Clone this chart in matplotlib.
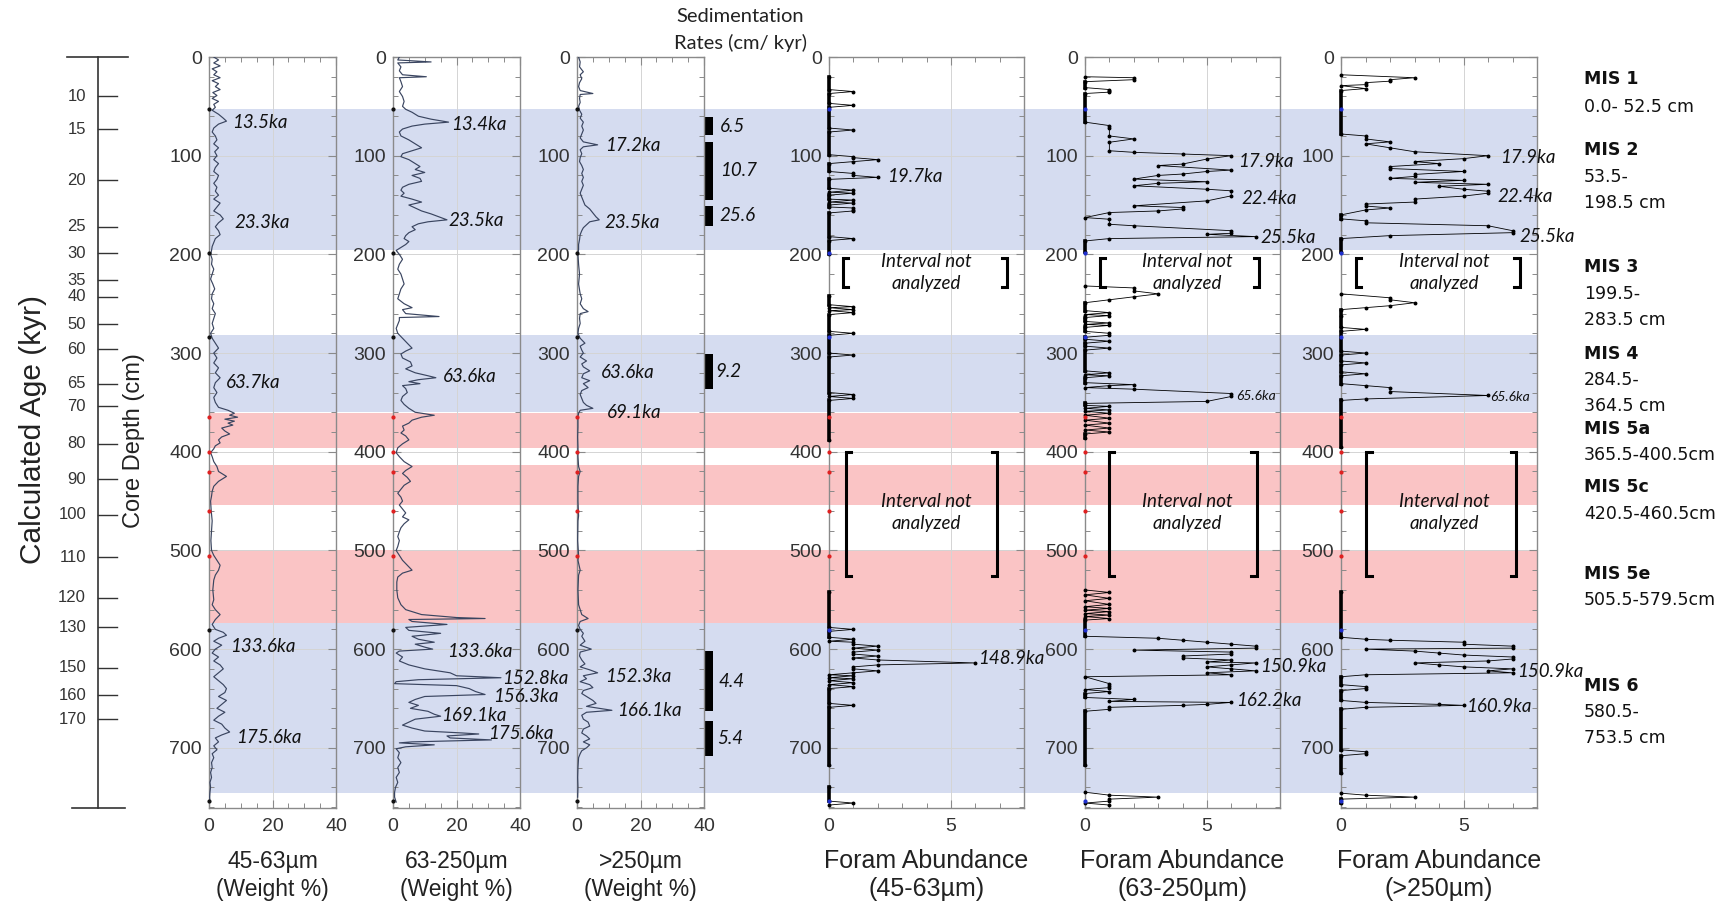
import numpy as np
import matplotlib.pyplot as plt
from matplotlib.ticker import MultipleLocator

# ---------------- data ----------------
# grain size weight % (depth in cm, value in %)
depth_45_63 = [0, 3, 6, 9, 12, 15, 18, 21, 24, 27, 30, 33, 36, 39, 42, 45, 48, 51, 54, 58, 62, 65, 68, 72,
               76, 80, 84, 88, 92, 96, 100, 104, 108, 112, 116, 120, 124, 128, 132, 136, 140, 144, 148,
               152, 156, 160, 164, 168, 172, 176, 180, 184, 188, 192, 196, 200, 205, 210, 215, 220, 225,
               230, 235, 240, 245, 250, 255, 260, 265, 270, 275, 280, 285, 290, 295, 300, 305, 310, 315,
               320, 325, 330, 335, 340, 345, 350, 355, 358, 361, 363, 365, 367, 369, 371, 373, 376, 379,
               382, 385, 388, 391, 394, 397, 401, 405, 410, 415, 420, 425, 430, 435, 440, 445, 450, 460,
               470, 480, 490, 500, 505, 510, 515, 520, 525, 530, 540, 550, 555, 560, 565, 570, 575, 580,
               583, 586, 589, 592, 596, 600, 604, 608, 612, 616, 620, 624, 628, 632, 636, 640, 644, 648,
               652, 656, 660, 664, 668, 672, 676, 680, 684, 687, 690, 694, 698, 702, 706, 710, 715, 720,
               725, 730, 735, 740, 745, 750, 755]
wt_45_63 = [1.5, 3, 1.5, 3.5, 1, 2.5, 1.5, 3.5, 1, 3, 2, 3.5, 1.2, 2.5, 1, 3, 1.5, 2, 1, 3, 4.5, 5.5, 3, 1.5,
            1, 2, 2.5, 1.5, 3, 1.8, 2.5, 1.5, 3, 2, 1.5, 3, 2.5, 1.5, 2.5, 2, 3, 1.5, 3.5,
            2.5, 1.5, 3.5, 4.5, 3, 2, 3, 3.5, 2, 1.5, 1, 0.8, 0.5, 1, 0.8, 1.5, 1, 0.5,
            1.2, 1.8, 1, 0.8, 1.5, 1, 2, 1.5, 1, 1.5, 0.5, 1, 2, 3, 1.5, 2.5, 1.5, 3,
            2, 3.5, 2, 1.5, 2.5, 1.5, 2, 3, 6, 8, 6.5, 9, 5, 8, 6, 7.5, 4, 5,
            6.5, 4, 3, 3.5, 2, 1.5, 0.5, 1, 1.5, 2.5, 3, 5.5, 3, 1.5, 1, 0.8, 0.5, 0.7,
            1, 0.8, 0.6, 0.8, 1.5, 2.5, 3.5, 3, 2, 1.5, 1.2, 1.5, 1, 2, 3.5, 2, 1, 2,
            4.5, 5.5, 3, 1.5, 4, 2, 1, 3, 1.5, 3.5, 4.5, 3, 1.5, 3, 4.5, 5.5, 5, 3,
            5.5, 4, 2.5, 5, 3, 1.5, 4, 5, 6.5, 4, 2, 3, 1.5, 2.5, 1, 1.5, 0.8, 1,
            0.5, 0.8, 0.3, 0.5, 0.3, 0.2, 0.3]

depth_63_250 = [0, 3, 5, 6, 10, 14, 18, 20, 21, 25, 30, 35, 40, 45, 50, 53, 56, 60, 63, 66, 68, 70, 73, 76,
                80, 84, 88, 92, 95, 98, 101, 104, 108, 111, 114, 117, 120, 123, 126, 129, 132, 135, 138,
                141, 144, 147, 150, 153, 156, 159, 162, 165, 167, 169, 172, 175, 178, 181, 184, 187, 190,
                193, 196, 200, 205, 210, 215, 220, 225, 230, 235, 240, 245, 250, 254, 256, 260, 263, 264,
                267, 271, 275, 280, 285, 290, 295, 298, 301, 305, 309, 313, 316, 320, 323, 325, 327, 329,
                331, 333, 336, 340, 344, 348, 352, 356, 360, 363, 365, 368, 371, 374, 378, 381, 384, 388,
                392, 396, 401, 405, 410, 415, 419, 422, 426, 430, 434, 438, 442, 446, 450, 454, 458, 462,
                466, 469, 473, 477, 481, 486, 490, 496, 500, 505, 510, 515, 520, 523, 527, 532, 540, 548,
                555, 560, 565, 568, 569, 570, 572, 575, 578, 581, 584, 587, 590, 593, 595, 598, 600, 602,
                604, 608, 612, 616, 620, 624, 627, 629, 631, 633, 635, 637, 640, 643, 646, 648, 651, 654,
                657, 660, 663, 666, 668, 671, 674, 677, 680, 683, 685, 686, 688, 690, 692, 694, 695, 697,
                699, 701, 705, 710, 715, 720, 725, 730, 735, 740, 745, 750, 755]
wt_63_250 = [2, 1.5, 12, 1.5, 2.5, 2, 3, 10.5, 2, 2.5, 3, 2, 3, 3.5, 3, 4, 6, 8, 12, 17.5, 10, 6, 3, 2,
             2.5, 5, 7, 9, 6, 3, 2.5, 5, 7, 8.5, 7, 10, 6, 8.5, 9, 5, 3, 2.5, 3.5,
             2.5, 6, 9, 5, 7, 9, 12, 14.5, 17, 11, 8, 6, 7, 5, 4, 3.5, 5, 4,
             2.5, 1, 2, 3, 2, 1.5, 2.5, 3, 3.5, 2.5, 2, 1.5, 3.5, 6, 3, 4, 14.5, 2,
             2, 1.5, 1, 1.5, 3, 4.5, 6, 4, 2.5, 3, 5.5, 6, 4, 7, 11, 13.5, 8, 5,
             8.5, 3, 4, 4.5, 3, 2.5, 3.5, 5, 7, 13, 9, 6, 5, 3, 3.5, 2.5, 4, 5,
             3, 1.5, 1, 2, 3.5, 6, 4, 3, 4.5, 5.5, 3.5, 2.5, 1.5, 2.5, 3, 2, 3, 4,
             3, 5, 3.5, 2.5, 2, 1.5, 2, 1.5, 1, 2, 3, 4.5, 6, 3, 1.5, 1.2, 1.2, 1.5,
             2.5, 4, 9, 20, 29, 5, 6, 17, 4, 5, 15, 6, 8, 13, 7, 10, 12.5, 2,
             1, 3, 2, 5, 10, 18, 20, 34, 8, 1, 0.5, 20, 24, 26, 29, 10, 7, 5,
             8, 5.5, 11, 13, 15, 7, 5, 3, 6, 10, 22, 27, 17, 18, 31, 6, 2, 13,
             4, 1, 2, 1.5, 2.5, 1.5, 2, 1, 1.5, 0.8, 0.5, 0.5, 1]

depth_gt250 = [0, 5, 10, 15, 18, 22, 26, 30, 34, 37, 38, 42, 46, 50, 54, 58, 62, 66, 70, 74, 78, 82, 86, 89,
               91, 94, 98, 102, 106, 110, 114, 118, 122, 126, 130, 134, 138, 142, 146, 150, 154, 158, 162,
               165, 167, 170, 173, 176, 180, 185, 190, 195, 200, 210, 220, 230, 240, 245, 250, 255, 258,
               260, 265, 270, 275, 280, 285, 290, 293, 297, 300, 304, 308, 311, 314, 318, 321, 325, 328,
               331, 335, 338, 342, 346, 350, 353, 356, 358, 361, 365, 375, 385, 395, 405, 415, 420, 425,
               435, 450, 465, 470, 490, 505, 510, 520, 525, 540, 555, 565, 569, 572, 576, 580, 584, 587,
               592, 596, 600, 603, 607, 611, 615, 618, 621, 624, 627, 630, 633, 636, 639, 642, 645, 648,
               652, 655, 658, 662, 664, 667, 671, 674, 678, 681, 685, 688, 691, 694, 697, 700, 703, 706,
               710, 720, 730, 740, 750]
wt_gt250 = [0.5, 1, 0.8, 2, 1, 1.5, 0.8, 0.5, 1, 5, 1, 0.8, 1, 0.5, 0.8, 1.5, 1, 2, 1.5, 2, 1.5, 1, 2, 6.5,
            2, 1, 1.5, 1, 0.8, 1.5, 2, 1.5, 2, 1.5, 2, 1.5, 1, 1.5, 2, 2.5, 4, 5, 6,
            7, 4, 3, 2, 1.5, 1, 0.8, 0.5, 0.5, 0.3, 0.5, 0.8, 0.5, 1, 1.5, 1, 2, 3.5,
            1, 0.8, 1, 0.5, 0.3, 1, 2.5, 1, 1.5, 2, 1, 3, 1.5, 2, 4, 2, 1.5, 4,
            2, 3.5, 1.5, 1, 1.5, 2, 3, 5, 1, 0.5, 0.3, 0.3, 0.2, 0.3, 0.3, 0.5, 1, 0.5,
            0.3, 0.3, 0.5, 0.3, 0.2, 0.5, 0.3, 1, 0.5, 0.3, 0.5, 1.5, 3.5, 1, 0.5, 1, 2, 1.5,
            2.5, 1, 4.5, 1, 0.8, 1.5, 2.5, 1, 4, 6.5, 2, 3, 1, 4, 5, 2, 1.5, 3,
            5, 6, 3, 11, 3, 1.5, 2, 3.5, 4, 2, 1.5, 3, 4, 2, 4, 3, 1.5, 1,
            0.5, 0.3, 0.2, 0.3, 0.2]

# sedimentation rates (cm/kyr) with depth ranges
sed_top = [61, 86, 151, 301, 602, 673]
sed_bot = [79, 145, 171, 336, 663, 708]
sed_rate = ["6.5", "10.7", "25.6", "9.2", "4.4", "5.4"]
sed_label_x = [45, 45, 45, 43.5, 44.5, 44.2]

nan = np.nan
# foram abundance counts (depth cm, count); nan = not analyzed gap
foram1_depth = [20, 33, 35, 37, 47, 49, 51, 72, 74, 76, 99, 101, 102, 104, 106, 108, 116, 118, 120, 122, 124,
                133, 135, 137, 138, 140, 144, 145, 147, 148, 150, 152, 153, 155, 156, 158, 182, 184, 186, 200,
                nan,
                242, 251, 253, 254, 256, 257, 259, 261, 278, 280, 282, 300, 302, 304, 340, 342, 344, 346, 348,
                388, nan,
                542, 578, 580, 582, 588, 590, 592, 593, 595, 597, 599, 601, 603, 605, 607, 609, 611, 614, 616,
                618, 620, 622, 624, 626, 627, 629, 630, 632, 634, 636, 638, 640, 655, 657, 659, 717, nan,
                740, 754, 756, 758]
foram1_count = [0, 0, 1, 0, 0, 1, 0, 0, 1, 0, 0, 1, 1, 2, 1, 0, 0, 1, 1, 2, 0,
                0, 1, 0, 1, 0, 0, 1, 0, 1, 0, 0, 1, 1, 1, 0, 0, 1, 0, 0,
                nan,
                0, 0, 1, 0, 1, 0, 1, 0, 0, 1, 0, 0, 1, 0, 0, 1, 0, 1, 0,
                0, nan,
                0, 0, 1, 0, 0, 1, 0, 1, 1, 2, 1, 2, 1, 1, 2, 1, 2, 6, 2,
                1, 1, 2, 1, 0, 1, 0, 1, 0, 1, 0, 1, 0, 0, 1, 0, 0, nan,
                0, 0, 1, 0]

foram2_depth = [20, 21, 23, 25, 31, 33, 34.6, 35.6, 37, 66, 69.5, 72, 80, 83, 86.4, 95, 96.6, 98.3, 100, 103.4,
                108.5, 110, 114.6, 116, 118.6, 120, 123.7, 126.4, 128, 130.5, 134, 135.6, 140.7, 145.8,
                150.8, 152.5, 154, 156, 157.6, 162.7, 164.4, 169.5, 171, 176, 178.6, 179.7, 182, 184, 186.4,
                198, nan,
                232, 234, 237, 240, 243, 246, 249, 257, 259, 261, 262, 264, 268, 269.5, 271, 272, 274, 278,
                280, 282, 284, 286, 288, 290, 293, 295, 297, 318, 320, 322, 323, 325, 330, 332, 333, 335,
                336.6, 341, 344, 349, 351, 353, 354, 356, 357.6, 359, 361, 363, 366, 368, 371, 373, 376,
                378, 380, 382, 386, nan,
                540, 542.6, 545, 548.6, 551, 554.7, 557, 558.8, 560.5, 562, 564, 565.5, 567, 569, 570.6, 587,
                589, 591, 593, 595, 597, 599, 601, 603, 605, 607, 609, 611, 613, 614, 616, 618, 620, 622,
                624, 626, 628, 635, 637, 639, 641, 643, 645, 649, 651, 653, 654, 656, 657, 659, 661, 663, 717,
                nan,
                745, 748, 750, 752, 754, 756, 758]
foram2_count = [0, 2, 2, 0, 0, 1, 1, 1, 0, 0, 1, 1, 1, 2, 1, 1, 2, 4, 6, 5,
                4, 3, 6, 5, 4, 3, 2, 5, 3, 2, 5, 6, 6, 5,
                2, 4, 4, 3, 1, 0, 1, 1, 2, 6, 6, 5, 7, 1, 0,
                0, nan,
                0, 2, 2, 3, 2, 1, 0, 0, 1, 0, 1, 0, 0, 1, 0, 1, 0, 0,
                1, 1, 0, 0, 1, 0, 0, 1, 0, 0, 1, 0, 1, 0, 0, 2, 1, 0,
                2, 6, 6, 5, 0, 0, 1, 0, 1, 0, 1, 0, 1, 0, 1, 0, 1,
                0, 1, 0, 0, nan,
                0, 1, 0, 1, 0, 1, 0, 1, 0, 1, 0, 1, 0, 1, 0, 0,
                3, 4, 5, 6, 7, 7, 2, 6, 6, 4, 4, 6, 5, 7, 6, 5, 6, 7,
                5, 6, 0, 1, 1, 1, 0, 1, 0, 0, 2, 1, 6, 5, 4, 1, 1, 0, 0,
                nan,
                0, 1, 3, 1, 1, 0, 1]

foram3_depth = [18, 21, 23, 24.5, 26, 28, 29, 32, 34, 78, 80, 83, 86, 88, 92, 96, 100, 103, 106, 108, 111,
                113, 116, 119, 121, 123, 125, 127, 129, 131, 134, 136, 138, 141, 144, 147, 149, 151, 153,
                155, 160, 164, 166, 168, 171, 176, 178, 181, 184, 198, nan,
                240, 244, 246, 249, 252, 254, 256, 262, 274, 276, 278, 298, 300, 302, 308, 310, 312, 319, 321,
                323, 331, 333, 335, 339, 343, 346.5, 348, 395, nan,
                542, 588, 590, 591, 593, 595, 597, 599, 600, 602, 604, 606, 608, 610, 612, 614, 616, 618,
                620, 622, 624, 626, 628, 636, 638, 640, 642, 652, 654, 656, 657, 659, 661, 702, 704, 706,
                708, 726, nan,
                746, 748, 750, 752, 756]
foram3_count = [0, 3, 2, 2, 1, 1, 0, 1, 0, 0, 1, 1, 2, 1, 2, 3, 6, 5, 3, 4, 2,
                2, 5, 3, 3, 2, 5, 3, 6, 4, 5, 6, 6, 5, 3, 3, 1, 1, 2,
                1, 0, 0, 1, 1, 6, 7, 7, 2, 0, 0, nan,
                0, 2, 2, 3, 2, 1, 0, 0, 0, 1, 0, 0, 1, 0, 0, 1, 0, 0, 1,
                0, 0, 1, 2, 2, 6, 1, 0, 0, nan,
                0, 0, 1, 2, 5, 5, 7, 7, 1, 3, 4, 5, 7, 7, 6, 3, 4, 5,
                7, 6, 7, 1, 0, 0, 1, 1, 0, 0, 1, 4, 5, 1, 0, 0, 1, 1,
                0, 0, nan,
                0, 1, 3, 0, 0]

# age-model tie points (depth cm)
tie_black = [52.5, 198.5, 283.5, 580.5, 753.5]
tie_red = [364.5, 400.5, 420.5, 460.5, 505.5]

# MIS background bands
band_top = [52.5, 282, 361, 413, 499.5, 574]
band_bot = [196, 360, 396, 454, 574, 746]
band_kind = ["glacial", "glacial", "interglacial", "interglacial", "interglacial", "glacial"]

# calculated age axis
age_labels = [10, 15, 20, 25, 30, 35, 40, 50, 60, 65, 70, 80, 90, 100, 110, 120, 130, 150, 160, 170]
age_depth = [40, 73, 125, 172, 199, 226, 243, 271, 296, 331, 354, 392, 428, 464, 507, 548, 578, 619, 647, 671]

# annotations (label, x value, depth)
ann_45_63 = [("13.5ka", 7.2, 66), ("23.3ka", 7.9, 168), ("63.7ka", 5.4, 330),
             ("133.6ka", 6.6, 597), ("175.6ka", 8.6, 690)]
ann_63_250 = [("13.4ka", 18.4, 68), ("23.5ka", 17.6, 166), ("63.6ka", 15.6, 324), ("133.6ka", 17, 602),
              ("152.8ka", 34.5, 630), ("156.3ka", 31.5, 648), ("169.1ka", 15.3, 667), ("175.6ka", 29.9, 686)]
ann_gt250 = [("17.2ka", 8.7, 90), ("23.5ka", 8.7, 168), ("63.6ka", 7.5, 320), ("69.1ka", 9.3, 360),
             ("152.3ka", 8.7, 628), ("166.1ka", 12.6, 662)]
ann_f1 = [("19.7ka", 2.4, 121, 13.5), ("148.9ka", 6.1, 610, 13.5)]
ann_f2 = [("17.9ka", 6.3, 106, 13.5), ("22.4ka", 6.4, 143, 13.5), ("25.5ka", 7.2, 183, 13.5),
          ("65.6ka", 6.2, 344, 10), ("150.9ka", 7.2, 618, 13.5), ("162.2ka", 6.2, 652, 13.5)]
ann_f3 = [("17.9ka", 6.5, 102, 13.5), ("22.4ka", 6.4, 141, 13.5), ("25.5ka", 7.3, 182, 13.5),
          ("65.6ka", 6.1, 345, 10), ("150.9ka", 7.2, 623, 13.5), ("160.9ka", 5.1, 658, 13.5)]

# not analyzed intervals (top, bottom) and bracket x positions per foram panel
gap_top = [(204, 233), (204, 233), (204, 233)]
gap_low = [(400, 526), (400, 526), (400, 526)]
bracket_top_x = [(0.57, 7.3), (0.6, 7.15), (0.6, 7.3)]
bracket_low_x = [(0.7, 6.9), (0.98, 7.05), (1.03, 7.15)]
gap_text_x = [4.0, 4.2, 4.2]

mis_lines = [("MIS 1", True, 79), ("0.0- 52.5 cm", False, 107),
             ("MIS 2", True, 150), ("53.5-", False, 177), ("198.5 cm", False, 203),
             ("MIS 3", True, 267), ("199.5-", False, 294), ("283.5 cm", False, 320),
             ("MIS 4", True, 354), ("284.5-", False, 380), ("364.5 cm", False, 406),
             ("MIS 5a", True, 429), ("365.5-400.5cm", False, 455),
             ("MIS 5c", True, 487), ("420.5-460.5cm", False, 514),
             ("MIS 5e", True, 574), ("505.5-579.5cm", False, 600),
             ("MIS 6", True, 686), ("580.5-", False, 712), ("753.5 cm", False, 738)]

# ---------------- figure ----------------
plt.rcParams['font.family'] = ['Liberation Sans', 'DejaVu Sans']
W, H = 1728, 907
YMAX = 761
TOP, BOT = 57, 808
fig = plt.figure(figsize=(W / 100, H / 100), dpi=100)


def px_axes(x0, x1, y0=TOP, y1=BOT):
    return fig.add_axes([x0 / W, 1 - y1 / H, (x1 - x0) / W, (y1 - y0) / H])


band_color = {"glacial": "#d5dcf0", "interglacial": "#fac4c5"}
bg = px_axes(209, 1537)
bg.set_ylim(YMAX, 0)
bg.axis('off')
for t, b, k in zip(band_top, band_bot, band_kind):
    bg.axhspan(t, b, color=band_color[k], lw=0)

ann_font = dict(family=['Lato', 'DejaVu Sans'], style='italic', color='#111111')


def style_axis(ax, xmax, xmajor, xminor):
    ax.set_facecolor('none')
    ax.set_xlim(0, xmax)
    ax.set_ylim(YMAX, 0)
    ax.xaxis.set_major_locator(MultipleLocator(xmajor))
    ax.xaxis.set_minor_locator(MultipleLocator(xminor))
    ax.yaxis.set_minor_locator(MultipleLocator(20))
    ax.set_yticks(range(0, 701, 100))
    ax.tick_params(which='both', direction='in', top=True, right=True,
                   colors='#8a8a8a', labelcolor='#333333', labelsize=14)
    ax.tick_params(which='major', length=6, width=0.8)
    ax.tick_params(which='minor', length=3.5, width=0.7)
    ax.tick_params(axis='x', pad=7)
    ax.tick_params(axis='y', pad=5)
    ax.grid(True, which='major', color='#d4d4d4', lw=0.7)
    ax.set_axisbelow(True)
    for s in ax.spines.values():
        s.set_color('#8a8a8a')
        s.set_linewidth(1.0)


def add_ties(ax, black_color):
    ax.plot(np.zeros(len(tie_black)), tie_black, 'o', ms=2, color=black_color, clip_on=False, zorder=6)
    ax.plot(np.zeros(len(tie_red)), tie_red, 'o', ms=2, color='#e02020', clip_on=False, zorder=6)


def xlabel(ax_x0, ax_x1, l1, l2, fs):
    cx = (ax_x0 + ax_x1) / 2 / W
    fig.text(cx, 1 - 868 / H, l1, ha='center', va='baseline', fontsize=fs, color='#222222')
    fig.text(cx, 1 - 896 / H, l2, ha='center', va='baseline', fontsize=fs, color='#222222')


weight_panels = [
    ((209, 336), depth_45_63, wt_45_63, ann_45_63, "45-63µm"),
    ((393, 520), depth_63_250, wt_63_250, ann_63_250, "63-250µm"),
    ((577, 704), depth_gt250, wt_gt250, ann_gt250, ">250µm"),
]
axes_w = []
for (x0, x1), dep, val, ann, name in weight_panels:
    ax = px_axes(x0, x1)
    style_axis(ax, 40, 20, 5)
    ax.plot(val, dep, color='#3a4560', lw=0.85, zorder=3)
    add_ties(ax, '#111111')
    for lab, xv, dv in ann:
        ax.text(xv, dv, lab, ha='left', va='center', fontsize=13.5, **ann_font)
    xlabel(x0, x1, name, "(Weight %)", 16.5)
    axes_w.append(ax)

# sedimentation rate bars next to the >250 panel
ax3 = axes_w[2]
for t, b, r, lx in zip(sed_top, sed_bot, sed_rate, sed_label_x):
    bars = ax3.barh((t + b) / 2, 2.8, height=b - t, left=40, color='black')
    for p in bars:
        p.set_clip_on(False)
    ax3.text(lx, (t + b) / 2, r, ha='left', va='center', fontsize=13.5, **ann_font)

fig.text(740 / W, 1 - 17 / H, "Sedimentation", ha='center', va='center', fontsize=14.5,
         family=['Lato', 'DejaVu Sans'], color='#222222')
fig.text(740 / W, 1 - 43 / H, "Rates (cm/ kyr)", ha='center', va='center', fontsize=14.5,
         family=['Lato', 'DejaVu Sans'], color='#222222')

foram_panels = [
    ((829, 1024), foram1_depth, foram1_count, ann_f1, "(45-63µm)"),
    ((1085, 1280), foram2_depth, foram2_count, ann_f2, "(63-250µm)"),
    ((1341, 1537), foram3_depth, foram3_count, ann_f3, "(>250µm)"),
]
for i, ((x0, x1), dep, cnt, ann, name) in enumerate(foram_panels):
    ax = px_axes(x0, x1)
    style_axis(ax, 8, 5, 1)
    ax.set_xticks([0, 5])
    cnt_arr = np.array(cnt, dtype=float)
    dep_arr = np.array(dep, dtype=float)
    # runs of zero counts sit on the axis as a heavy black trace
    zero_run = np.where(cnt_arr == 0, 0.0, np.nan)
    ax.plot(zero_run, dep_arr, color='black', lw=2.6, clip_on=False, zorder=4)
    ax.plot(cnt_arr, dep_arr, '-o', color='black', lw=0.6, ms=1.8, clip_on=False, zorder=4)
    add_ties(ax, '#2030d0')
    for lab, xv, dv, fs in ann:
        ax.text(xv, dv, lab, ha='left', va='center', fontsize=fs, **ann_font)
    for (t, b), (xl, xr) in ((gap_top[i], bracket_top_x[i]), (gap_low[i], bracket_low_x[i])):
        arm = 0.22
        ax.plot([xl + arm, xl, xl, xl + arm], [t, t, b, b], color='black', lw=2.2,
                solid_joinstyle='miter', zorder=5)
        ax.plot([xr - arm, xr, xr, xr - arm], [t, t, b, b], color='black', lw=2.2,
                solid_joinstyle='miter', zorder=5)
        ax.text(gap_text_x[i], (t + b) / 2 if b - t < 60 else 462, "Interval not\nanalyzed",
                ha='center', va='center', multialignment='center', linespacing=1.35,
                fontsize=13.5, **ann_font)
    xlabel(x0, x1, "Foram Abundance", name, 18)

# calculated age axis
ax_age = px_axes(55, 135)
ax_age.set_xlim(0, 1)
ax_age.set_ylim(YMAX, 0)
ax_age.axis('off')
xv = (98 - 55) / 80
ax_age.plot([xv, xv], [0, YMAX], color='#333333', lw=1.2, clip_on=False)
ax_age.plot([(67 - 55) / 80, (128 - 55) / 80], [0, 0], color='#333333', lw=1.2, clip_on=False)
ax_age.plot([(72 - 55) / 80, (125 - 55) / 80], [YMAX, YMAX], color='#333333', lw=1.2, clip_on=False)
for lab, d in zip(age_labels, age_depth):
    ax_age.plot([xv, (117 - 55) / 80], [d, d], color='#333333', lw=1.0)
    ax_age.text((86 - 55) / 80, d, str(lab), ha='right', va='center', fontsize=12, color='#333333')

fig.text(33 / W, 1 - 430 / H, "Calculated Age (kyr)", rotation=90, ha='center', va='center',
         fontsize=21.5, color='#222222')
fig.text(134 / W, 1 - 441 / H, "Core Depth (cm)", rotation=90, ha='center', va='center',
         fontsize=17, color='#222222')

# MIS labels
for txt, bold, y in mis_lines:
    fig.text(1584 / W, 1 - y / H, txt, ha='left', va='center', fontsize=12.5,
             family='DejaVu Sans', fontweight='bold' if bold else 'normal', color='#111111')

fig.savefig("out.png", dpi=100)
